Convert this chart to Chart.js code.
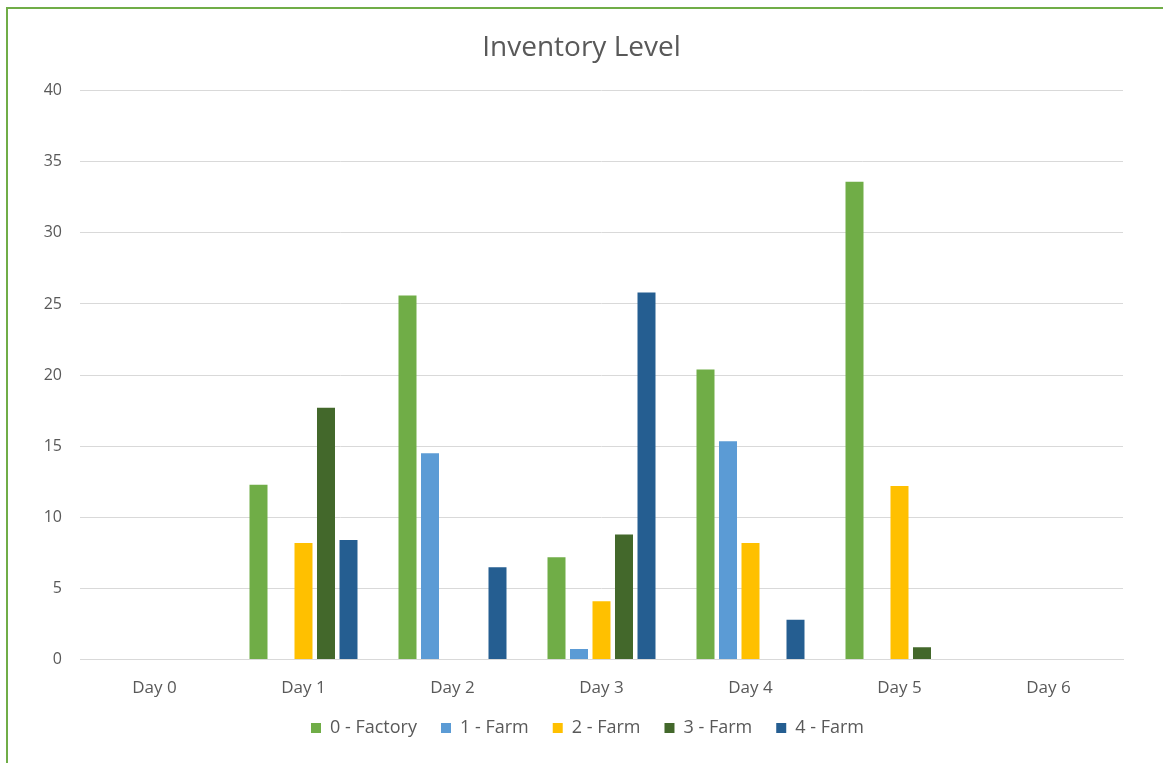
<!DOCTYPE html>
<html>
<head>
<meta charset="utf-8">
<script src="https://cdn.jsdelivr.net/npm/chart.js@4"></script>
<style>
  html, body { margin: 0; padding: 0; background: #fff; }
  #wrap { position: relative; width: 1163px; height: 763px; overflow: hidden; }
  #frame {
    position: absolute; left: 6px; top: 7px; width: 1200px; height: 800px;
    border-left: 2px solid #70ad47; border-top: 2px solid #70ad47;
    pointer-events: none;
  }
</style>
</head>
<body>
<div id="wrap">
  <canvas id="chart" width="1163" height="763"></canvas>
  <div id="frame"></div>
</div>
<script>
const days = ["Day 0", "Day 1", "Day 2", "Day 3", "Day 4", "Day 5", "Day 6"];

const factory0 = [0, 12.3, 25.6, 7.2, 20.4, 33.6, 0];
const farm1 = [0, 0, 14.5, 0.75, 15.35, 0, 0];
const farm2 = [0, 8.2, 0, 4.1, 8.2, 12.2, 0];
const farm3 = [0, 17.7, 0, 8.8, 0, 0.87, 0];
const farm4 = [0, 8.4, 6.5, 25.8, 2.8, 0, 0];

const seriesNames = ["0 - Factory", "1 - Farm", "2 - Farm", "3 - Farm", "4 - Farm"];
const seriesColors = ["#70ad47", "#5b9bd5", "#ffc000", "#43682b", "#255e91"];

const FONT = "'Open Sans', sans-serif";

const ds = [factory0, farm1, farm2, farm3, farm4].map((vals, i) => ({
  label: seriesNames[i],
  data: vals,
  backgroundColor: seriesColors[i],
  borderWidth: 0,
  categoryPercentage: 0.755,
  barPercentage: 0.8
}));

// excel puts the legend a bit closer to the axis labels than chart.js does
const legendNudge = {
  id: "legendNudge",
  afterLayout(chart) {
    const lg = chart.legend;
    lg.left += 6; lg.right += 6;
    lg.top -= 13; lg.bottom -= 13;
  }
};

new Chart(document.getElementById("chart"), {
  type: "bar",
  data: { labels: days, datasets: ds },
  plugins: [legendNudge],
  options: {
    responsive: false,
    animation: false,
    layout: { padding: { left: 40, right: 40, top: 0, bottom: 3 } },
    plugins: {
      title: {
        display: true,
        text: "Inventory Level",
        color: "#595959",
        font: { family: FONT, size: 28, weight: "normal" },
        padding: { top: 31, bottom: 26 }
      },
      legend: {
        position: "bottom",
        labels: {
          color: "#595959",
          font: { family: FONT, size: 18 },
          boxWidth: 10,
          boxHeight: 10,
          padding: 24
        }
      },
      tooltip: { enabled: false }
    },
    scales: {
      x: {
        grid: { display: false },
        border: { display: true, color: "#d9d9d9" },
        ticks: { color: "#595959", font: { family: FONT, size: 17 }, padding: 10 }
      },
      y: {
        min: 0,
        max: 40,
        ticks: { stepSize: 5, color: "#595959", font: { family: FONT, size: 16 }, padding: 18 },
        grid: { color: "#d9d9d9", drawTicks: false },
        border: { display: false },
        afterFit: s => { s.width = 40; }
      }
    }
  }
});
</script>
</body>
</html>
